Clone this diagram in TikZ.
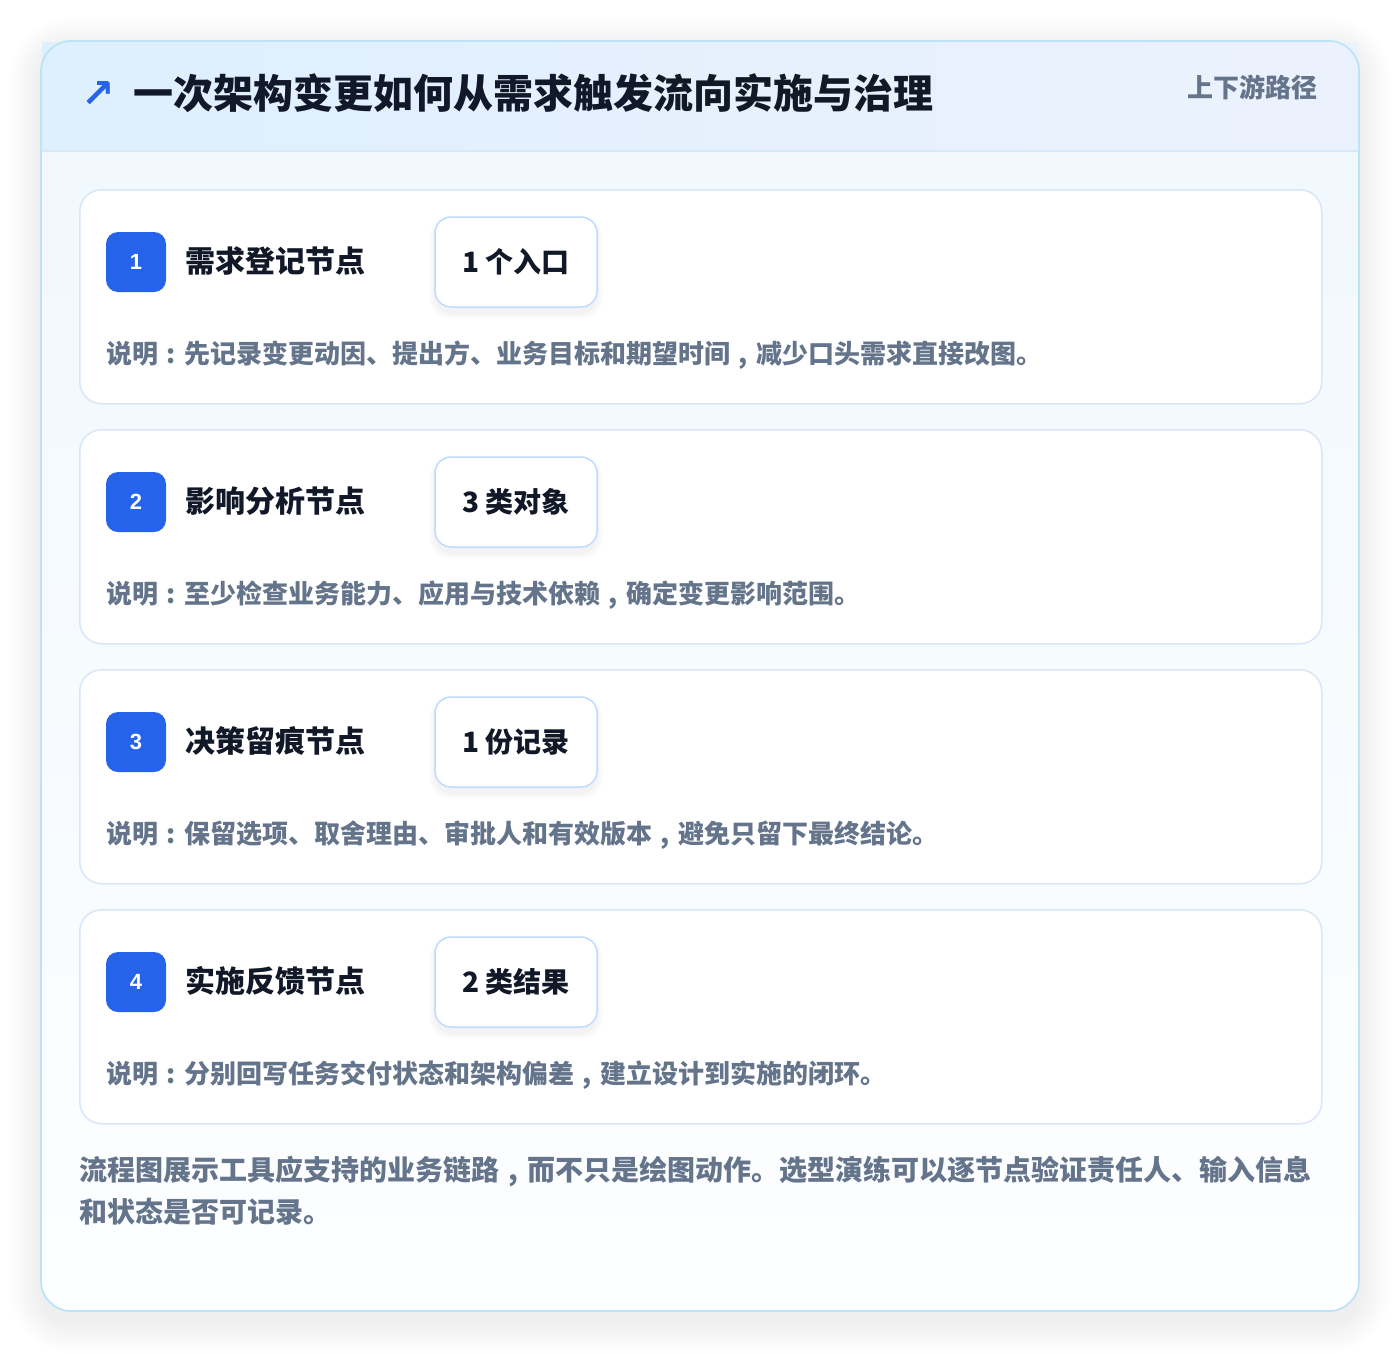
\documentclass[tikz,border=0pt]{standalone}
\usepackage{fontspec}
\setmainfont{Noto Sans CJK SC}
\newfontfamily\symfont{DejaVu Sans}
\newfontfamily\numfont{Liberation Sans}
\newcommand{\cc}{\makebox[1em][c]{:}}
\newcommand{\cm}{\makebox[1em][c]{,}}
\definecolor{brand}{HTML}{2563EB}
\definecolor{ink}{HTML}{111827}
\definecolor{slate}{HTML}{64748B}
\definecolor{outerline}{HTML}{BEE3F6}
\definecolor{cardline}{HTML}{D7E7F8}
\definecolor{pillline}{HTML}{BFDBFE}
\definecolor{headL}{HTML}{DEEFFD}
\definecolor{headR}{HTML}{ECF2FD}
\definecolor{bodyT}{HTML}{F1F8FE}
\definecolor{bodyB}{HTML}{FDFEFF}
\definecolor{headline}{HTML}{D6E9FA}
\tikzset{
  card/.style={draw=cardline, line width=1.5pt, fill=white, rounded corners=22pt,
    minimum width=1242pt, minimum height=214pt, inner sep=0pt, anchor=north west},
  badge/.style={fill=brand, rounded corners=12pt, minimum width=60pt, minimum height=60pt,
    inner sep=0pt, text=white, font=\numfont\bfseries\fontsize{22}{26}\selectfont},
  cardtitle/.style={anchor=west, inner sep=0pt, text=ink, font=\bfseries\fontsize{30}{36}\selectfont},
  pill/.style={draw=pillline, line width=1.5pt, fill=white, rounded corners=16pt,
    minimum width=162pt, minimum height=90pt, inner sep=0pt, text=ink,
    font=\bfseries\fontsize{28}{34}\selectfont},
  desc/.style={anchor=west, inner sep=0pt, text=slate, font=\bfseries\fontsize{26}{32}\selectfont},
  foot/.style={anchor=north west, inner sep=0pt, text=slate, align=left,
    font=\bfseries\fontsize{28}{42}\selectfont},
}
\begin{document}
\begin{tikzpicture}[x=1pt,y=-1pt]
\useasboundingbox (0,0) rectangle (1400,1352);
\fill[white] (0,0) rectangle (1400,1352);
% soft shadow of outer card
\foreach \k in {1,...,16}{
  \fill[black, opacity=0.0055, rounded corners={30pt+2*\k pt}]
    ({41-2*\k},{49-2*\k}) rectangle ({1359+2*\k},{1321+2*\k});
}
\path[fill=white, rounded corners=30pt] (41,41) rectangle (1359,1311);
\begin{scope}
  \clip[rounded corners=30pt] (41,41) rectangle (1359,1311);
  \shade[top color=bodyT, bottom color=bodyB] (41,151) rectangle (1359,1311);
\end{scope}
\shade[left color=headL, right color=headR] (42,42) rectangle (1358,151);
\draw[headline, line width=1.5pt] (42,151) -- (1358,151);
\draw[outerline, line width=1.8pt, rounded corners=30pt] (41,41) rectangle (1359,1311);
% header
\node[anchor=center, inner sep=0pt, text=brand, font=\symfont\bfseries\fontsize{40}{44}\selectfont] (arrow) at (98,94) {↗};
\node[anchor=west, inner sep=0pt, text=ink, font=\bfseries\fontsize{40}{48}\selectfont] (title) at (133,93) {一次架构变更如何从需求触发流向实施与治理};
\node[anchor=east, inner sep=0pt, text=slate, font=\bfseries\fontsize{26}{32}\selectfont] (tag) at (1318,87) {上下游路径};
% cards
\foreach \i/\num/\ttl/\pl/\ds in {
  0/1/需求登记节点/1 个入口/说明\cc 先记录变更动因、提出方、业务目标和期望时间\cm 减少口头需求直接改图。,
  1/2/影响分析节点/3 类对象/说明\cc 至少检查业务能力、应用与技术依赖\cm 确定变更影响范围。,
  2/3/决策留痕节点/1 份记录/说明\cc 保留选项、取舍理由、审批人和有效版本\cm 避免只留下最终结论。,
  3/4/实施反馈节点/2 类结果/说明\cc 分别回写任务交付状态和架构偏差\cm 建立设计到实施的闭环。}{
  \pgfmathsetmacro{\oy}{240*\i}
  \node[card] (card\num) at (79,189+\oy) {};
  \node[badge] (badge\num) at (136,262+\oy) {\num};
  \node[cardtitle] (ttl\num) at (185,261+\oy) {\ttl};
  \foreach \s in {1,...,6}{
    \fill[black, opacity=0.006, rounded corners={16pt+\s pt}]
      ({435-\s},{221+\oy-\s}) rectangle ({597+\s},{313+\oy+\s});
  }
  \node[pill] (pill\num) at (516,262+\oy) {\pl};
  \node[desc] (desc\num) at (106,355+\oy) {\ds};
}
% footer
\node[foot] (foot) at (79,1156) {流程图展示工具应支持的业务链路\cm 而不只是绘图动作。选型演练可以逐节点验证责任人、输入信息\\和状态是否可记录。};
\end{tikzpicture}
\end{document}
